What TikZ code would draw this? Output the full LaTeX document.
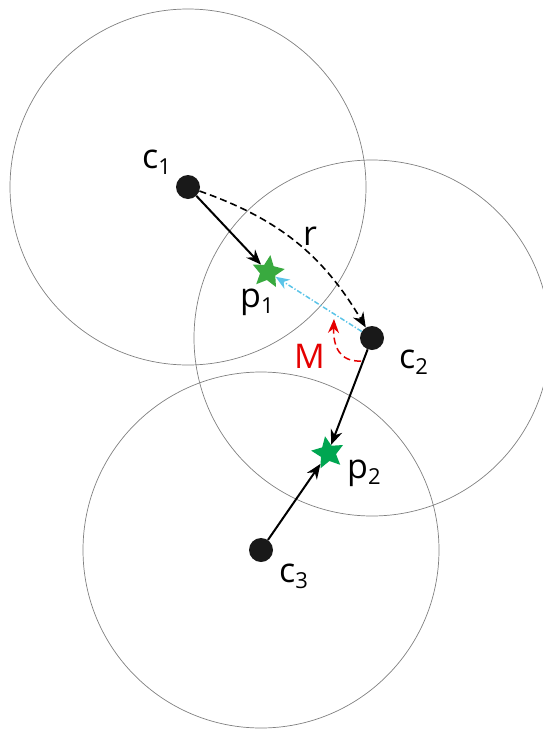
\documentclass[tikz,border=0pt]{standalone}
\usepackage{fontspec}
\setmainfont{Open Sans}
\usetikzlibrary{arrows.meta,shapes.geometric}
\newcommand{\sublbl}[2]{#1\raisebox{-6pt}{\fontsize{22}{22}\selectfont #2}}
\begin{document}
\begin{tikzpicture}[x=1pt,y=-1pt,
  ring/.style={draw=black!50, line width=0.7pt},
  dot/.style={circle, fill=black!90, draw=none, inner sep=0pt, minimum size=24pt},
  starnode/.style={star, star points=5, star point ratio=2.1, inner sep=0pt, minimum size=34pt, draw=none},
  lbl/.style={font=\fontsize{34}{36}\selectfont, inner sep=0pt, anchor=base west},
  arr/.style={line width=2pt, -{Stealth[length=15pt,width=12pt]}},
  rarr/.style={line width=1.6pt, dash pattern=on 7pt off 4pt, -{Stealth[length=15pt,width=12pt]}},
  marr/.style={line width=1.5pt, red!90!black, dash pattern=on 7pt off 4pt, -{Stealth[length=14pt,width=11pt]}},
  carr/.style={line width=1.5pt, color={rgb,255:red,91;green,196;blue,232}, dash pattern=on 5pt off 2pt on 1.2pt off 2pt, -{Stealth[length=14pt,width=11pt]}}
]
\useasboundingbox (0,0) rectangle (542,731);
% circles
\draw[ring] (188,187) circle[radius=178pt];
\draw[ring] (372,338) circle[radius=178pt];
\draw[ring] (261,550) circle[radius=178pt];
% centres
\node[dot] (c1) at (188,187) {};
\node[dot] (c2) at (372,338) {};
\node[dot] (c3) at (261,550) {};
% stars
\node[starnode, fill={rgb,255:red,57;green,170;blue,63}, rotate=-8] (p1) at (268,272) {};
\node[starnode, fill={rgb,255:red,0;green,166;blue,81}, rotate=10] (p2) at (328,453) {};
% coordinates for M arrow
\coordinate (ms) at (361,361);
\coordinate (me) at (334,319);
% connectors
\draw[arr] (c1) -- (p1);
\draw[rarr] (c1) to[bend left=20] (c2);
\draw[carr] (c2) -- (p1);
\draw[marr] (ms) .. controls (340,362) and (333,347) .. (me);
\draw[arr] (c2) -- (p2);
\draw[arr] (c3) -- (p2);
% labels
\node[lbl] (lc1) at (142,168) {\sublbl{c}{1}};
\node[lbl] (lp1) at (240,307) {\sublbl{p}{1}};
\node[lbl] (lr) at (303,245) {r};
\node[lbl, text=red!90!black] (lM) at (294,368) {M};
\node[lbl] (lc2) at (399,368) {\sublbl{c}{2}};
\node[lbl] (lp2) at (347,478) {\sublbl{p}{2}};
\node[lbl] (lc3) at (279,582) {\sublbl{c}{3}};
\end{tikzpicture}
\end{document}
